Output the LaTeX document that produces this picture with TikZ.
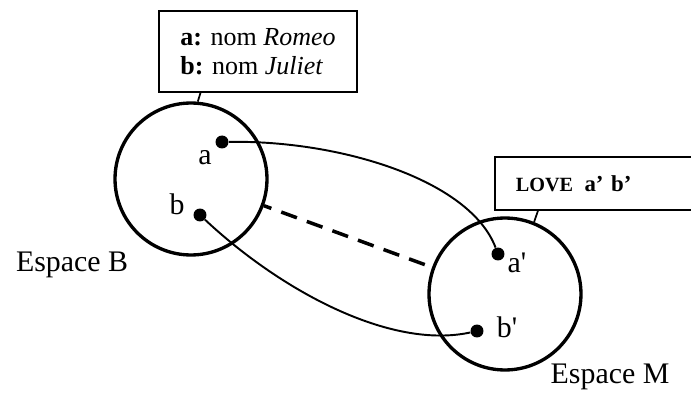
\documentclass[tikz,border=0pt]{standalone}
\usepackage{fontspec}
\setmainfont{Liberation Serif}
\newcommand{\q}{\textquotesingle}

\begin{document}
\begin{tikzpicture}[x=0.02cm, y=-0.02cm,
    espace/.style={circle, draw, line width=1.9pt, minimum size=3.04cm, inner sep=0pt},
    elt/.style={circle, fill, minimum size=0.26cm, inner sep=0pt},
    lbl/.style={inner sep=0pt, font=\fontsize{17}{20}\selectfont},
    cadre/.style={draw, line width=1pt, align=left, inner ysep=0pt, inner xsep=0.42cm},
    lien/.style={line width=1.1pt}]
         \useasboundingbox (0,0) rectangle (691,395);
         \node[espace] (B) at (191,179) {};
         \node[espace] (M) at (505,294) {};
         \node[elt] (a) at (222,142) {};
         \node[elt] (b) at (200,215) {};
         \node[elt] (ap) at (498,254) {};
         \node[elt] (bp) at (477,331) {};
         \node[lbl] (La) at (205,158) {a};
         \node[lbl] (Lb) at (177,204) {b};
         \node[lbl] (Lap) at (517,263) {a\q};
         \node[lbl] (Lbp) at (507,327) {b\q};
         \node[lbl] (EB) at (72,265) {Espace B};
         \node[lbl] (EM) at (610,377) {Espace M};
         \node[cadre, minimum width=3.92cm, minimum height=1.62cm,
               font=\fontsize{14.8}{16}\selectfont] (noms) at (258,51.5)
               {\textbf{a:} nom \textit{Romeo}\\[0.6pt] \textbf{b:} nom \textit{Juliet}};
         \node[cadre, anchor=north west, text width=3.68cm, minimum height=1.06cm,
               font=\fontsize{13}{15}\selectfont\bfseries] (love) at (494,156)
               {{\fontsize{11.5}{15}\selectfont LOVE}\enspace a' b'};
         \draw[line width=1pt] ([xshift=0.84cm]noms.south west) -- (B.85);
         \draw[line width=1pt] ([xshift=0.88cm]love.south west) -- (M.68);
         \draw[lien] (a) .. controls (340,140) and (470,180) .. (ap);
         \draw[lien] (b) .. controls (280,290) and (390,350) .. (bp);
         \draw[line width=2pt, dash pattern=on 9.5pt off 6pt, dash phase=5pt] (B) -- (M);
\end{tikzpicture}
\end{document}
